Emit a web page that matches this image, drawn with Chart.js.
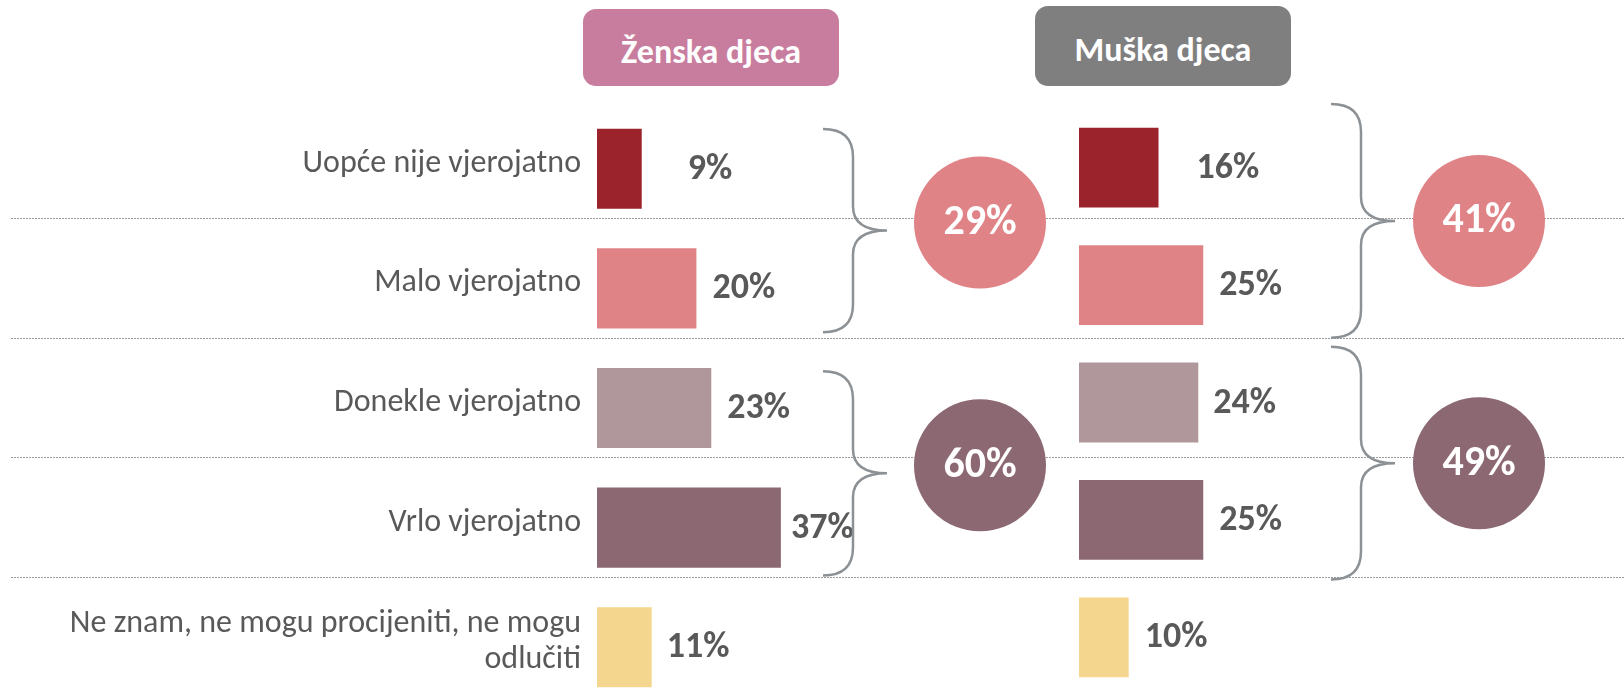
<!DOCTYPE html>
<html>
<head>
<meta charset="utf-8">
<script src="https://cdn.jsdelivr.net/npm/chart.js@4.4.1/dist/chart.umd.min.js"></script>
<style>
  body { margin: 0; width: 1624px; height: 694px; overflow: hidden; background: #fff; position: relative; font-family: Carlito, 'Liberation Sans', sans-serif; }
  canvas { position: absolute; left: 0; top: 0; }
  .head { position: absolute; width: 256px; border-radius: 13px; color: #fff; font-weight: bold; font-size: 34px; text-align: center; box-sizing: border-box; }
</style>
</head>
<body>
<canvas id="zenska" width="1624" height="720"></canvas>
<canvas id="muska" width="1624" height="720"></canvas>
<div class="head" style="left:583px; top:9px; height:77px; line-height:77px; padding-top:4px; background:#C97D9E;">Ženska djeca</div>
<div class="head" style="left:1035px; top:6px; height:80px; line-height:80px; padding-top:4px; background:#7F7F7F;">Muška djeca</div>
<script>
// data
const categories = ['Uopće nije vjerojatno', 'Malo vjerojatno', 'Donekle vjerojatno', 'Vrlo vjerojatno', ['Ne znam, ne mogu procijeniti, ne mogu', 'odlučiti']];
const zenskaValues = [9, 20, 23, 37, 11];
const muskaValues = [16, 25, 24, 25, 10];
const groupRows = [[0, 1], [2, 3]];
const zenskaTotals = [29, 60];
const muskaTotals = [41, 49];

const barColors = ['#9A232C', '#E08387', '#B0979C', '#8C6872', '#F5D68E'];
const groupColors = ['#E08387', '#8C6872'];
const labelGrey = '#595959';

function drawBrace(c, x0, top, bot, w) {
  const mid = (top + bot) / 2, xv = x0 + 30, tip = x0 + w;
  c.beginPath();
  c.moveTo(x0, top);
  c.quadraticCurveTo(xv, top, xv, top + 28);
  c.lineTo(xv, mid - 24);
  c.quadraticCurveTo(xv, mid, tip, mid);
  c.quadraticCurveTo(xv, mid, xv, mid + 24);
  c.lineTo(xv, bot - 28);
  c.quadraticCurveTo(xv, bot, x0, bot);
  c.stroke();
}

const decor = {
  id: 'decor',
  beforeDatasetsDraw(chart, args, o) {
    if (!o.dividers) return;
    const y = chart.scales.y, c = chart.ctx;
    c.save();
    c.strokeStyle = '#9a9a9a';
    c.lineWidth = 1;
    c.setLineDash([2, 1]);
    for (let i = 0; i < chart.data.labels.length - 1; i++) {
      const py = Math.round((y.getPixelForValue(i) + y.getPixelForValue(i + 1)) / 2 - 10.5) + 0.5;
      c.beginPath(); c.moveTo(11, py); c.lineTo(chart.width, py); c.stroke();
    }
    c.restore();
  },
  afterDatasetsDraw(chart, args, o) {
    const c = chart.ctx, y = chart.scales.y, meta = chart.getDatasetMeta(0);
    const band = y.getPixelForValue(1) - y.getPixelForValue(0);
    const left = chart.chartArea.left;
    c.save();
    c.font = 'bold 36px Carlito';
    c.fillStyle = labelGrey;
    c.textBaseline = 'middle';
    c.textAlign = 'left';
    meta.data.forEach((bar, i) => {
      c.fillText(chart.data.datasets[0].data[i] + '%', bar.x + o.gaps[i] - 1, bar.y + 1);
    });
    o.groups.forEach((rows, g) => {
      const top = y.getPixelForValue(rows[0]) - band / 2 + o.braceTop[g];
      const bot = y.getPixelForValue(rows[rows.length - 1]) + band / 2 - o.braceBottom[g];
      c.strokeStyle = '#8C9196';
      c.lineWidth = 2.5;
      drawBrace(c, left + o.braceX, top, bot, 64);
      const cx = left + o.circleX, cy = (top + bot) / 2 + o.circleDy;
      c.fillStyle = o.colors[g];
      c.beginPath(); c.arc(cx, cy, 66, 0, Math.PI * 2); c.fill();
      c.fillStyle = '#fff';
      c.font = 'bold 42px Carlito';
      c.textAlign = 'center';
      c.fillText(o.totals[g] + '%', cx, cy + 1);
    });
    c.restore();
  }
};

function makeChart(id, values, totals, showLabels, pad, deco) {
  return new Chart(document.getElementById(id), {
    type: 'bar',
    data: {
      labels: categories,
      datasets: [{ data: values, backgroundColor: barColors, borderWidth: 0, categoryPercentage: 1, barPercentage: pad.bar }]
    },
    options: {
      indexAxis: 'y',
      responsive: false,
      animation: false,
      events: [],
      layout: { padding: { left: pad.left, right: pad.right, top: pad.top, bottom: pad.bottom } },
      scales: {
        x: { min: 0, max: 100, display: false },
        y: {
          display: showLabels,
          grid: { display: false, drawTicks: false },
          border: { display: false },
          afterFit: s => {
            if (showLabels) s.width = 597;
            s.paddingTop = 0;
            s.paddingBottom = 0;
          },
          ticks: { color: labelGrey, padding: 16, labelOffset: -5, font: { family: 'Carlito', size: 32, lineHeight: 1.12 } }
        }
      },
      plugins: {
        legend: { display: false },
        tooltip: { enabled: false },
        decor: Object.assign({ groups: groupRows, totals: totals, colors: groupColors }, deco)
      }
    },
    plugins: [decor]
  });
}

makeChart('zenska', zenskaValues, zenskaTotals, true,
  { left: 0, right: 530, top: 109, bottom: 13, bar: 0.67 },
  { dividers: true, gaps: [47, 17, 17, 11, 16], braceX: 226, circleX: 383, circleDy: -8, braceTop: [20, 23], braceBottom: [16, 12] });

makeChart('muska', muskaValues, muskaTotals, false,
  { left: 1079, right: 48, top: 109, bottom: 24, bar: 0.68 },
  { dividers: false, gaps: [39, 17, 16, 17, 17], braceX: 252, circleX: 400, circleDy: 0, braceTop: [-5, 3], braceBottom: [6, -1] });
</script>
</body>
</html>
